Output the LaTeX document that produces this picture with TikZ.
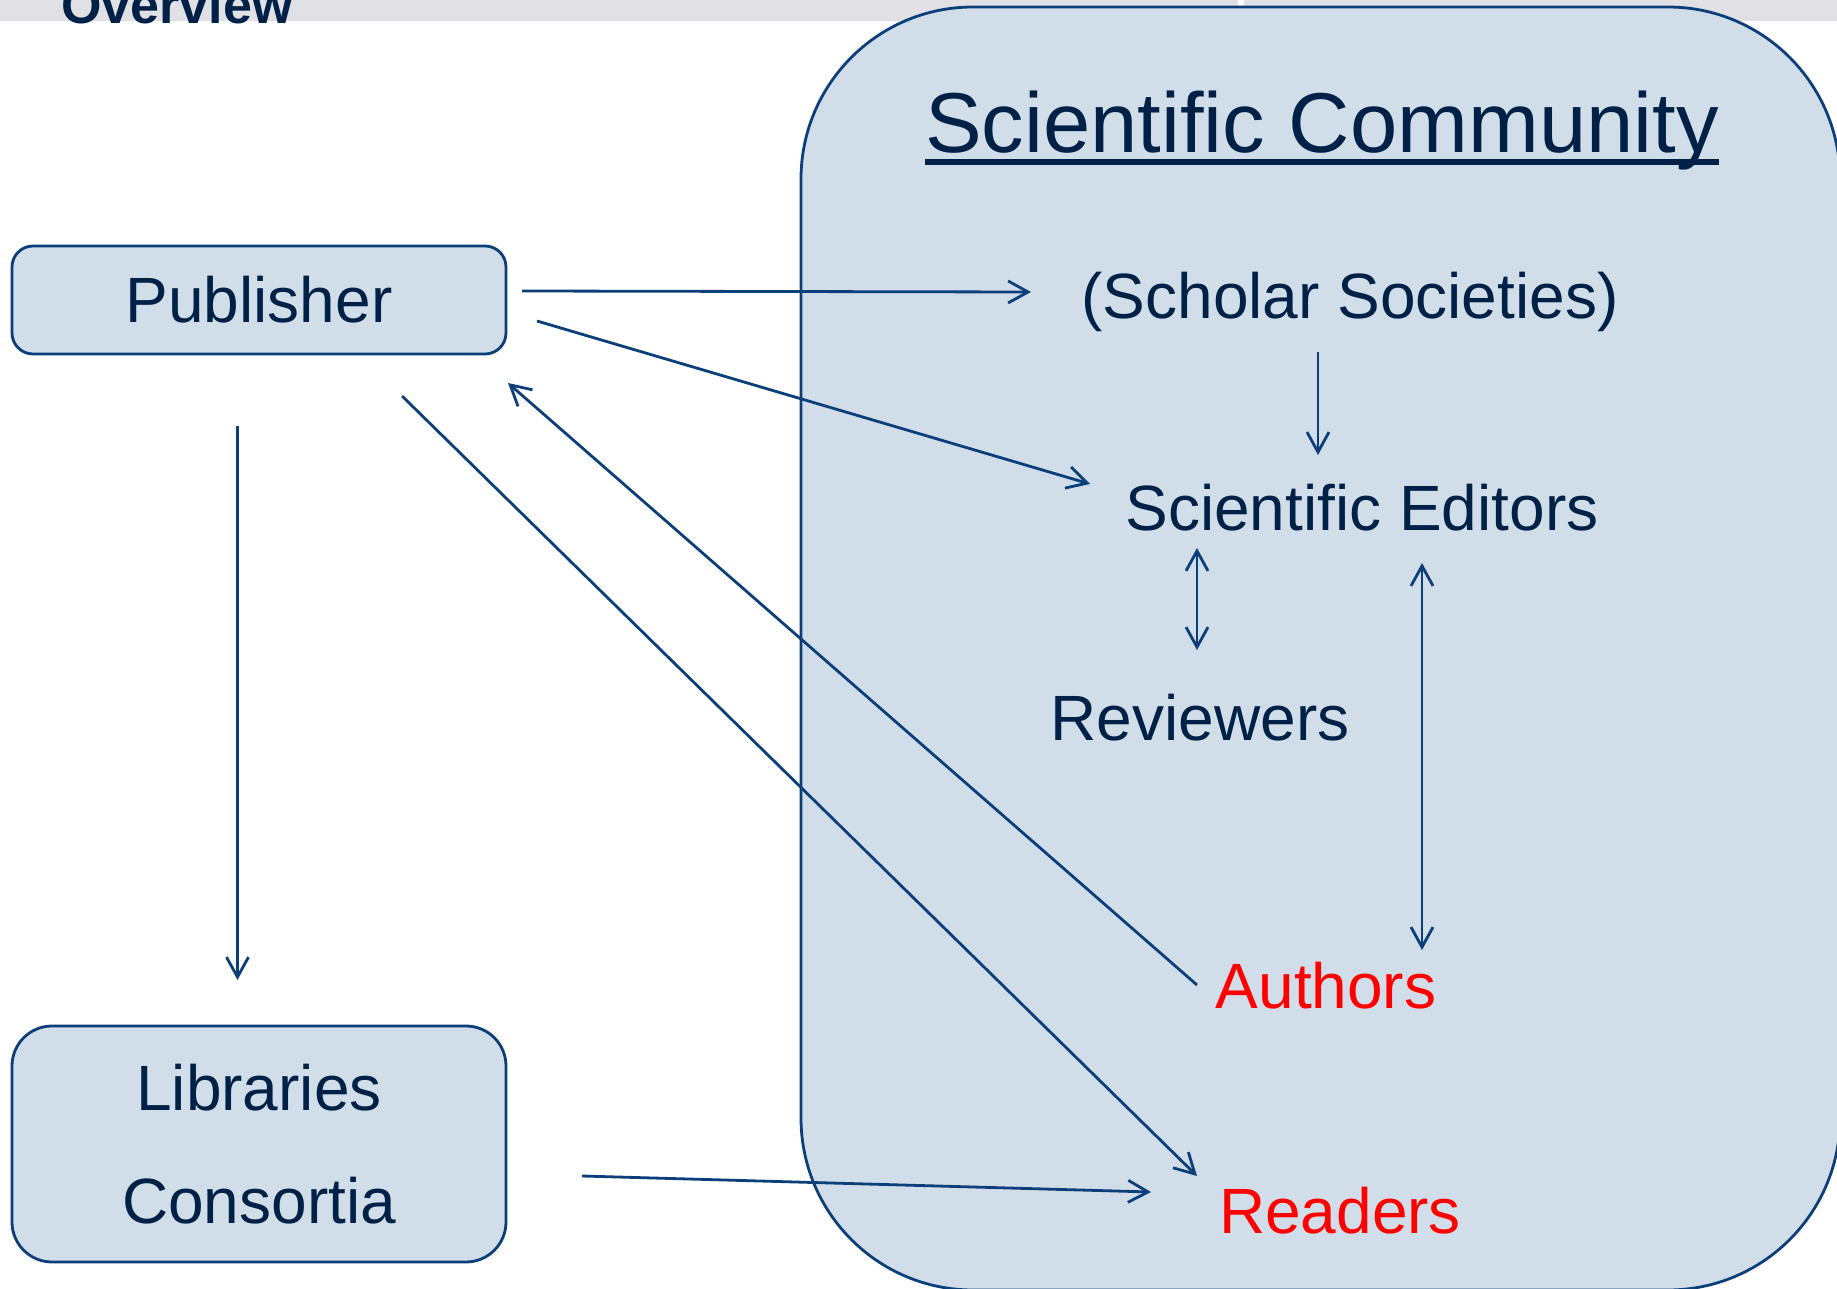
\documentclass[tikz,border=0pt]{standalone}
\usepackage{fontspec}
\setmainfont{Liberation Sans}
\usetikzlibrary{arrows.meta}
\definecolor{navy}{RGB}{0,33,71}
\definecolor{linecol}{RGB}{12,62,122}
\definecolor{boxfill}{RGB}{209,222,233}
\definecolor{bandcol}{RGB}{224,224,229}
\definecolor{redtxt}{RGB}{255,0,0}
\begin{document}
\begin{tikzpicture}[x=0.5pt,y=-0.5pt,
  lbl/.style={inner sep=0pt, anchor=base, text=navy, font=\fontsize{32}{38}\selectfont},
  redlbl/.style={lbl, text=redtxt},
  boxnode/.style={draw=linecol, line width=1.4pt, fill=boxfill, inner sep=0pt, text=navy,
     font=\fontsize{32}{56.5}\selectfont, align=center},
  conn/.style={draw=linecol, line width=1.4pt, -{Straight Barb[length=10pt,width=11pt]}},
  conn2/.style={draw=linecol, line width=1.4pt, {Straight Barb[length=10pt,width=11pt]}-{Straight Barb[length=10pt,width=11pt]}}
]
\useasboundingbox (0,0) rectangle (1837,1289);
\begin{scope}
\clip (0,0) rectangle (1837,1289);
% top band
\fill[bandcol] (0,0) rectangle (1837,21);
\fill[white] (1238,0) rectangle (1244,21);
% community box
\node[draw=linecol, line width=1.4pt, fill=boxfill, rounded corners=86pt, inner sep=0pt,
      minimum width=519.5pt, minimum height=641.5pt] (comm) at (1320.5,648.5) {};
\end{scope}

\node[anchor=base west, inner sep=0pt, text=navy, font=\bfseries\fontsize{26}{30}\selectfont] (ovw) at (61,24) {Overview};

% left boxes
\node[boxnode, rounded corners=10.5pt, minimum width=247pt, minimum height=54pt] (pub) at (259,300) {Publisher};
\node[boxnode, rounded corners=20pt, minimum width=247pt, minimum height=118pt] (lib) at (259,1144) {Libraries\\Consortia};

% title
\node[lbl, font=\fontsize{42.5}{50}\selectfont] (title) at (1322,153) {Scientific Community};
\draw[navy, line width=3.1pt] ([yshift=-4.6pt]title.base west) -- ([yshift=-4.6pt]title.base east);

% labels
\node[lbl] (ss) at (1350,319) {(Scholar Societies)};
\node[lbl] (ed) at (1362,530) {Scientific Editors};
\node[lbl] (rev) at (1200,740) {Reviewers};
\node[redlbl] (auth) at (1326,1008) {Authors};
\node[redlbl] (read) at (1340,1233) {Readers};

% connector end points
\coordinate (a1s) at (522,291);  \coordinate (a1e) at (1031,292);
\coordinate (a2s) at (537,321);  \coordinate (a2e) at (1090,484);
\coordinate (a3s) at (1197,985); \coordinate (a3e) at (508,383);
\coordinate (a4s) at (402,396);  \coordinate (a4e) at (1197,1176);
\coordinate (a5s) at (237.5,426);  \coordinate (a5e) at (237.5,980);
\coordinate (a6s) at (582,1176); \coordinate (a6e) at (1151,1192);
\coordinate (a7s) at (1318,352); \coordinate (a7e) at (1318,455);
\coordinate (a8s) at (1197,548); \coordinate (a8e) at (1197,650);
\coordinate (a9s) at (1422,563); \coordinate (a9e) at (1422,950);

\draw[conn] (a1s) -- (a1e);
\draw[conn] (a2s) -- (a2e);
\draw[conn] (a3s) -- (a3e);
\draw[conn] (a4s) -- (a4e);
\draw[conn] (a5s) -- (a5e);
\draw[conn] (a6s) -- (a6e);
\draw[conn] (a7s) -- (a7e);
\draw[conn2] (a8s) -- (a8e);
\draw[conn2] (a9s) -- (a9e);
\end{tikzpicture}
\end{document}
